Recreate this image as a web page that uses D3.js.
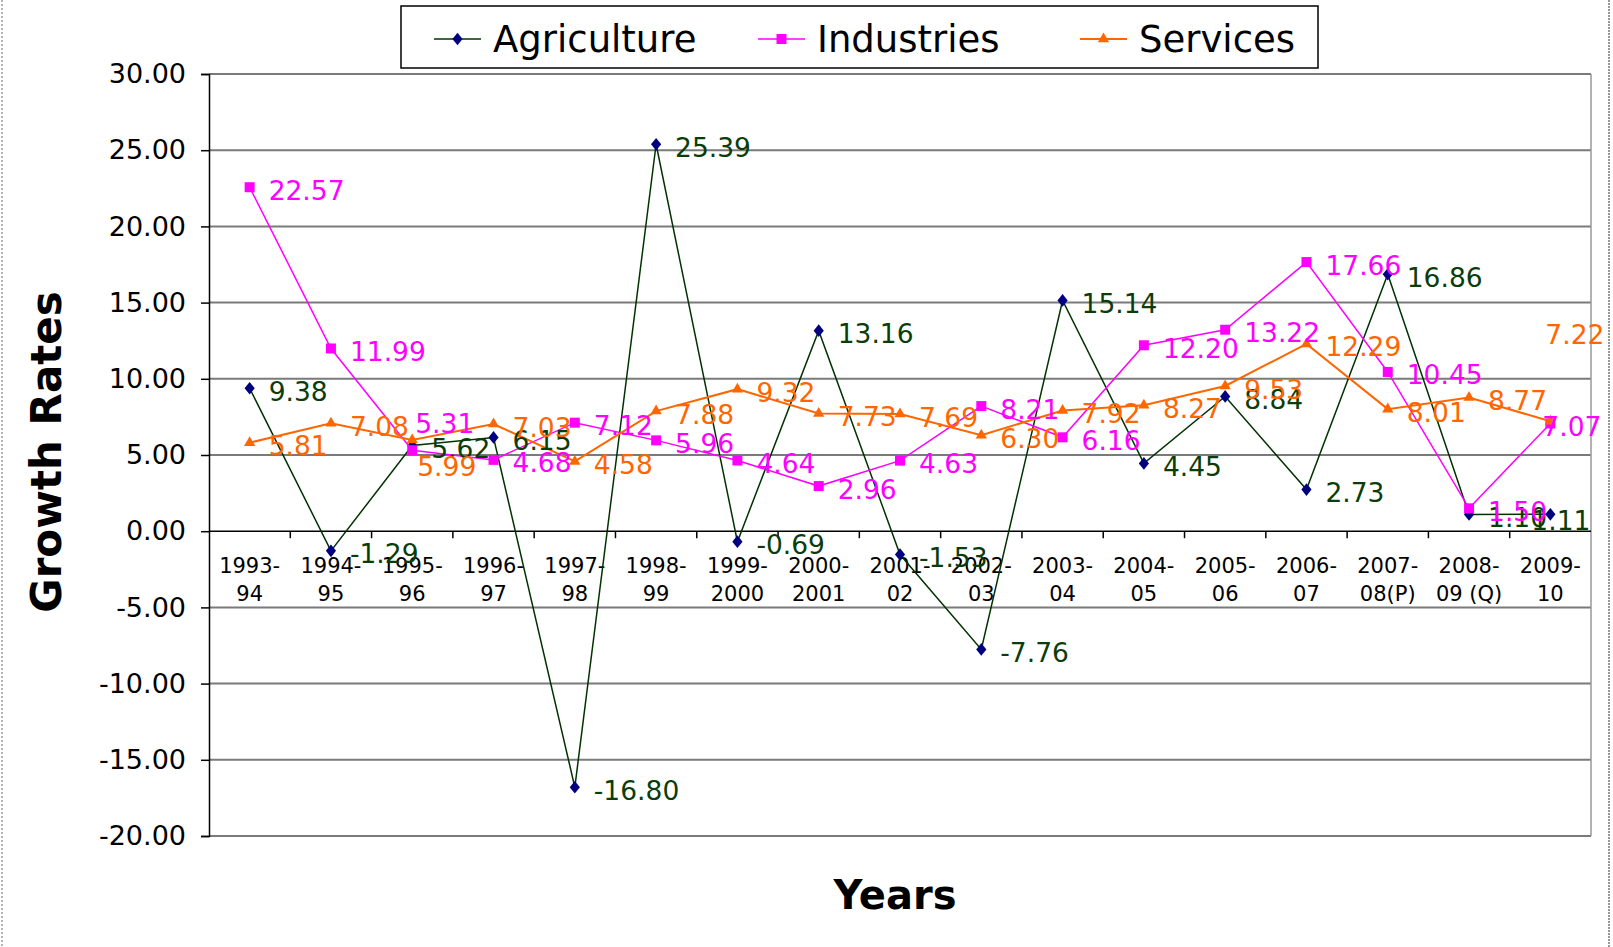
<!DOCTYPE html>
<html>
<head>
<meta charset="utf-8">
<script src="https://cdn.jsdelivr.net/npm/d3@7/dist/d3.min.js"></script>
<style>
  html, body { margin: 0; padding: 0; background: #fff; }
  svg { display: block; font-family: "DejaVu Sans", Verdana, sans-serif; }
</style>
</head>
<body>
<svg id="chart" width="1613" height="947"></svg>
<script>
// Data
const years = ["1993-\n94", "1994-\n95", "1995-\n96", "1996-\n97", "1997-\n98", "1998-\n99",
  "1999-\n2000", "2000-\n2001", "2001-\n02", "2002-\n03", "2003-\n04", "2004-\n05",
  "2005-\n06", "2006-\n07", "2007-\n08(P)", "2008-\n09 (Q)", "2009-\n10"];
const agriculture = [9.38, -1.29, 5.62, 6.15, -16.80, 25.39, -0.69, 13.16, -1.53, -7.76, 15.14, 4.45, 8.84, 2.73, 16.86, 1.10, 1.11];
const industries = [22.57, 11.99, 5.31, 4.68, 7.12, 5.96, 4.64, 2.96, 4.63, 8.21, 6.16, 12.20, 13.22, 17.66, 10.45, 1.50, 7.07];
const services = [5.81, 7.08, 5.99, 7.03, 4.58, 7.88, 9.32, 7.73, 7.69, 6.30, 7.92, 8.27, 9.53, 12.29, 8.01, 8.77, 7.22];
const yTicks = [-20, -15, -10, -5, 0, 5, 10, 15, 20, 25, 30];

const series = [
  { name: "Agriculture", values: agriculture, line: "#003300", marker: "#000080", label: "#0b3d0b", symbol: d3.symbolDiamond, width: 1.5 },
  { name: "Industries", values: industries, line: "#ff00ff", marker: "#ff00ff", label: "#ff00ff", symbol: d3.symbolSquare, width: 1.5 },
  { name: "Services", values: services, line: "#ff6600", marker: "#ff6600", label: "#ff6600", symbol: d3.symbolTriangle, width: 2 }
];

// labels that had been nudged by hand in the original
const labelNudge = {
  "Industries-2": [-16, -30],
  "Services-2": [-14, 24],
  "Services-16": [-24, -90],
  "Agriculture-16": [-38, 3],
  "Industries-16": [-27, 0]
};

const svg = d3.select("#chart");
const plotL = 209, plotR = 1591, plotT = 74, plotB = 836;

const x = d3.scaleBand().domain(years).range([plotL, plotR]);
const y = d3.scaleLinear().domain([-20, 30]).range([plotB, plotT]);
const cx = d => x(d) + x.bandwidth() / 2;
const fmt = d => d3.format(".2f")(d).replace("−", "-");

function markerPath(s) {
  if (s.symbol === d3.symbolDiamond) return { d: d3.symbol(d3.symbolDiamond, 90)(), t: " scale(1,0.72)" };
  if (s.symbol === d3.symbolSquare) return { d: d3.symbol(d3.symbolSquare, 100)(), t: "" };
  return { d: d3.symbol(d3.symbolTriangle, 55)(), t: "" };
}

// thin outer frame
svg.append("line").attr("x1", 2).attr("x2", 2).attr("y1", 0).attr("y2", 947)
  .attr("stroke", "#666").attr("stroke-dasharray", "2,2");
svg.append("line").attr("x1", 1609).attr("x2", 1609).attr("y1", 0).attr("y2", 947)
  .attr("stroke", "#333").attr("stroke-dasharray", "2,1");

// gridlines
svg.append("g").selectAll("line")
  .data(yTicks.filter(t => t !== 0))
  .join("line")
  .attr("x1", plotL).attr("x2", plotR)
  .attr("y1", d => y(d)).attr("y2", d => y(d))
  .attr("stroke", "#7a7a7a").attr("stroke-width", 2);

// plot border (right)
svg.append("line").attr("x1", plotR).attr("x2", plotR).attr("y1", plotT).attr("y2", plotB)
  .attr("stroke", "#999").attr("stroke-width", 1.5);

// y axis
const yAxis = svg.append("g")
  .attr("transform", `translate(${plotL},0)`)
  .call(d3.axisLeft(y).tickValues(yTicks).tickSize(8).tickPadding(15).tickFormat(fmt));
yAxis.select(".domain").attr("stroke", "#000").attr("stroke-width", 1.5);
yAxis.selectAll(".tick line").attr("stroke", "#000").attr("stroke-width", 1.5);
yAxis.selectAll(".tick text")
  .attr("font-size", 27).attr("fill", "#000")
  .attr("font-family", "DejaVu Sans, Verdana, sans-serif");

// zero line / category axis
const xAxis = svg.append("g").attr("transform", `translate(0,${y(0)})`);
xAxis.append("line").attr("x1", plotL).attr("x2", plotR).attr("stroke", "#000").attr("stroke-width", 1.5);
xAxis.selectAll("line.tk")
  .data(years.slice(1))
  .join("line").attr("class", "tk")
  .attr("x1", d => x(d)).attr("x2", d => x(d))
  .attr("y1", 0).attr("y2", 7)
  .attr("stroke", "#000").attr("stroke-width", 1.5);
const catText = xAxis.selectAll("text.cat")
  .data(years)
  .join("text").attr("class", "cat")
  .attr("text-anchor", "middle")
  .attr("font-size", 21)
  .attr("fill", "#000");
catText.selectAll("tspan")
  .data(d => d.split("\n").map(s => ({ s, c: d })))
  .join("tspan")
  .attr("x", d => cx(d.c))
  .attr("y", (d, i) => 42 + i * 28)
  .text(d => d.s);

// series
const line = d3.line().x((d, i) => cx(years[i])).y(d => y(d));
series.forEach(s => {
  const g = svg.append("g");
  g.append("path")
    .attr("d", line(s.values))
    .attr("fill", "none")
    .attr("stroke", s.line)
    .attr("stroke-width", s.width);
  const m = markerPath(s);
  g.selectAll("path.m")
    .data(s.values)
    .join("path").attr("class", "m")
    .attr("transform", (d, i) => `translate(${cx(years[i])},${y(d)})` + m.t)
    .attr("d", m.d)
    .attr("fill", s.marker);
});

// data labels
series.forEach(s => {
  svg.append("g").selectAll("text")
    .data(s.values)
    .join("text")
    .attr("x", (d, i) => cx(years[i]) + 19 + ((labelNudge[s.name + "-" + i] || [0, 0])[0]))
    .attr("y", (d, i) => y(d) + 3 + ((labelNudge[s.name + "-" + i] || [0, 0])[1]))
    .attr("dy", "0.36em")
    .attr("font-size", 26.5)
    .attr("fill", s.label)
    .text(fmt);
});

// legend
const legend = svg.append("g");
legend.append("rect").attr("x", 401).attr("y", 6).attr("width", 917).attr("height", 62)
  .attr("fill", "#fff").attr("stroke", "#000").attr("stroke-width", 1.5);
const legendX = [434, 758, 1080];
series.forEach((s, i) => {
  const lx = legendX[i];
  legend.append("line").attr("x1", lx).attr("x2", lx + 47).attr("y1", 39).attr("y2", 39)
    .attr("stroke", s.line).attr("stroke-width", s.width);
  const m = markerPath(s);
  legend.append("path")
    .attr("transform", `translate(${lx + 23.5},39)` + m.t)
    .attr("d", m.d)
    .attr("fill", s.marker);
  legend.append("text").attr("x", lx + 59).attr("y", 39).attr("dy", "0.36em")
    .attr("font-size", 37).attr("fill", "#000").text(s.name);
});

// axis titles
svg.append("text")
  .attr("transform", "translate(46,452) rotate(-90)")
  .attr("text-anchor", "middle").attr("dy", "0.36em")
  .attr("font-size", 42).attr("font-weight", "bold").text("Growth Rates");
svg.append("text")
  .attr("x", 895).attr("y", 895).attr("dy", "0.36em")
  .attr("text-anchor", "middle")
  .attr("font-size", 40).attr("font-weight", "bold").text("Years");
</script>
</body>
</html>
